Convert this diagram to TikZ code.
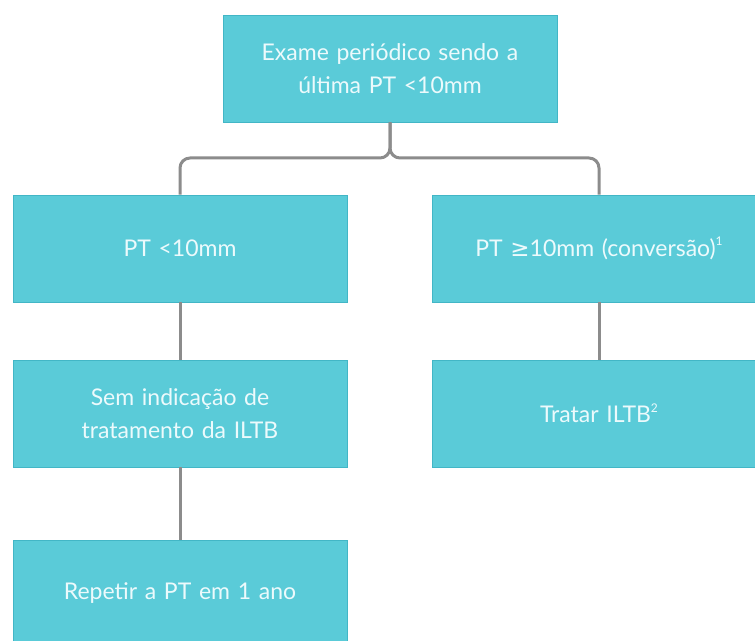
\documentclass[tikz,border=0pt]{standalone}
\usepackage{fontspec}
\setmainfont{Lato}
\newfontfamily\symfont{DejaVu Sans}
\usetikzlibrary{arrows.meta}
\definecolor{boxfill}{RGB}{90, 203, 216}
\definecolor{boxedge}{RGB}{66, 182, 198}
\definecolor{lgray}{RGB}{140, 140, 140}
\definecolor{txt}{RGB}{236, 250, 252}
\newcommand{\supnum}[1]{\raisebox{0.9ex}{\fontsize{6}{6}\selectfont #1}}

\begin{document}
\begin{tikzpicture}[x = 0.5pt, y = -0.5pt,
			box/.style = {rectangle, fill = boxfill, draw = boxedge, line width = 0.4pt,
				minimum width = 167pt, minimum height = 53.5pt, text width = 150pt,
				align = center, text = txt, font = \fontsize{11.5}{16.5}\selectfont},
			conn/.style = {draw = lgray, line width = 1.5pt, rounded corners = 5pt}]
			\useasboundingbox (0,0) rectangle (755,641);
			\node (top) at (390,68.5) [box] {Exame periódico sendo a\\última PT <10mm};
			\node (ptlow) at (180,248.5) [box] {PT <10mm};
			\node (pthigh) at (599,248.5) [box] {PT {\symfont ≥}10mm (conversão)\supnum{1}};
			\node (semtrat) at (180,413.5) [box] {Sem indicação de\\tratamento da ILTB};
			\node (tratar) at (599,413.5) [box] {Tratar ILTB\supnum{2}};
			\node (repetir) at (180,593.5) [box] {Repetir a PT em 1 ano};
			\coordinate (split) at (390,158);
			\draw[conn] (top.south) -- (split) -| (ptlow.north);
			\draw[conn] (top.south) -- (split) -| (pthigh.north);
			\draw[conn] (ptlow) edge (semtrat);
			\draw[conn] (semtrat) edge (repetir);
			\draw[conn] (pthigh) edge (tratar);
			\end{tikzpicture}
\end{document}
